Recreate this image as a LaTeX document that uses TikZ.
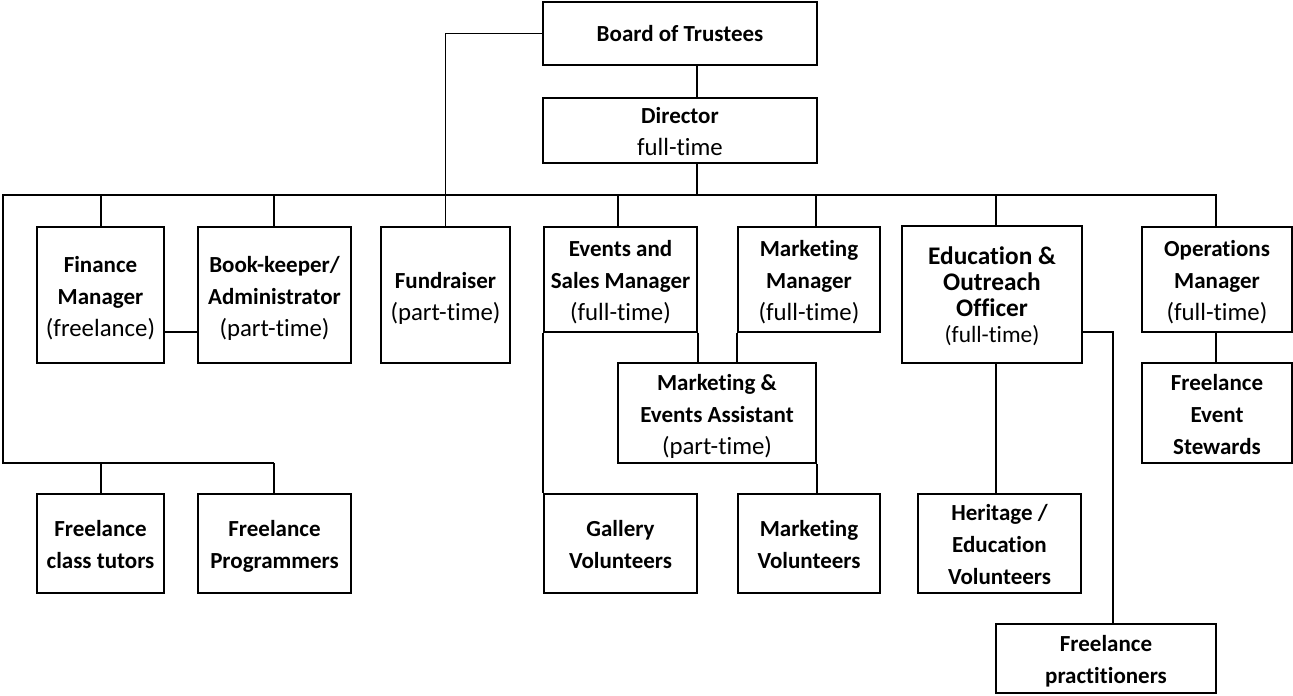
\documentclass[tikz,border=0pt]{standalone}
\usepackage{fontspec}
\setmainfont{Carlito}[Ligatures=NoCommon]
% centred stack of lines; the optional argument sets the height of the first row.
% The stack is set with zero height and depth so that it never enlarges its box.
\newsavebox\stackbox
\newlength\stackoff
\newcommand\stack[2][21.2pt]{%
  \sbox\stackbox{\begin{tabular}{@{}c@{}}\rule{0pt}{#1}#2\end{tabular}}%
  \setlength\stackoff{\ht\stackbox}\addtolength\stackoff{-\dp\stackbox}%
  \raisebox{-0.5\stackoff}[0pt][0pt]{\usebox\stackbox}}
\newcommand\hb[1]{{\fontsize{17.25}{24}\selectfont\bfseries #1}}
\newcommand\eb[1]{{\fontsize{19}{19.5}\selectfont\bfseries #1}}
\begin{document}
\begin{tikzpicture}[x=0.75pt,y=-0.75pt,
  sz/.style 2 args={minimum width=#1*0.75pt, minimum height=#2*0.75pt},
  box/.style={draw, line width=1.4pt, inner sep=0pt,
    font=\fontsize{18.6}{24}\selectfont},
  keybox/.style={box, line width=2pt, font=\fontsize{18.6}{19.5}\selectfont},
  link/.style={line width=1.4pt}]
\useasboundingbox (0,0) rectangle (1293,696);

% ---- boxes ----
\node[box, sz={274}{63}] (board) at (680,33.5) {\stack[19.5pt]{\hb{Board of Trustees}}};
\node[box, sz={274}{65}] (dir) at (680,130.5) {\stack{\hb{Director}\\full-time}};

\node[box, sz={127}{136}] (fin) at (100.5,295) {\stack{\hb{Finance}\\\hb{Manager}\\(freelance)}};
\node[box, sz={153}{136}] (bk) at (274.5,295) {\stack{\hb{Book-keeper/}\\\hb{Administrator}\\(part-time)}};
\node[box, sz={129}{136}] (fund) at (445.5,295) {\stack{\hb{Fundraiser}\\(part-time)}};
\node[box, sz={153}{105}] (evt) at (620.5,279.5) {\stack{\hb{Events and}\\\hb{Sales Manager}\\(full-time)}};
\node[box, sz={142}{105}] (mkt) at (809,279.5) {\stack{\hb{Marketing}\\\hb{Manager}\\(full-time)}};
\node[keybox, sz={180}{137}] (edu) at (992,294.5) {\stack[19.85pt]{\eb{Education \&}\\\eb{Outreach}\\\eb{Officer}\\{\fontsize{17.5}{19.5}\selectfont (full-time)}}};
\node[box, sz={150}{105}] (ops) at (1217,279.5) {\stack{\hb{Operations}\\\hb{Manager}\\(full-time)}};

\node[box, sz={198}{100}] (asst) at (717,413) {\stack{\hb{Marketing \&}\\\hb{Events Assistant}\\(part-time)}};
\node[box, sz={150}{100}] (stew) at (1217,413) {\stack{\hb{Freelance}\\\hb{Event}\\\hb{Stewards}}};

\node[box, sz={127}{99}] (tut) at (100.5,543.5) {\stack{\hb{Freelance}\\\hb{class tutors}}};
\node[box, sz={153}{99}] (prog) at (274.5,543.5) {\stack{\hb{Freelance}\\\hb{Programmers}}};
\node[box, sz={153}{99}] (gal) at (620.5,543.5) {\stack{\hb{Gallery}\\\hb{Volunteers}}};
\node[box, sz={142}{99}] (mvol) at (809,543.5) {\stack{\hb{Marketing}\\\hb{Volunteers}}};
\node[box, sz={163}{99}] (her) at (999.5,543.5) {\stack{\hb{Heritage /}\\\hb{Education}\\\hb{Volunteers}}};
\node[box, sz={220}{69}] (prac) at (1106,658.5) {\stack{\hb{Freelance}\\\hb{practitioners}}};

% ---- bus and junction points ----
\coordinate (busL) at (3,195);
\coordinate (busR) at (1216,195);
\coordinate (spine) at (697,195);
\coordinate (lowL) at (3,463);
\coordinate (lowR) at (274,463);
\coordinate (tfin) at (101,195);
\coordinate (tbk) at (274,195);
\coordinate (tevt) at (618,195);
\coordinate (tmkt) at (816,195);
\coordinate (tedu) at (996,195);
\coordinate (fbk) at (0,332);
\coordinate (eprac) at (1113,332);

% ---- connectors ----
\draw[link] (board.west) -| (fund.north);
\draw[link] (spine |- board.south) -- (spine |- dir.north);
\draw[link] (spine |- dir.south) -- (spine);
\draw[link] (lowR) -- (lowL) -- (busL) -- (busR) -- (busR |- ops.north);

\draw[link] (tfin) -- (tfin |- fin.north);
\draw[link] (tbk) -- (tbk |- bk.north);
\draw[link] (tevt) -- (tevt |- evt.north);
\draw[link] (tmkt) -- (tmkt |- mkt.north);
\draw[link] (tedu) -- (tedu |- edu.north);

\draw[link] (tfin |- lowL) -- (tfin |- tut.north);
\draw[link] (lowR) -- (lowR |- prog.north);

\draw[link] (fin.east |- fbk) -- (bk.west |- fbk);
\draw[link] (evt.south east) -- (evt.south east |- asst.north);
\draw[link] (mkt.south west) -- (mkt.south west |- asst.north);
\draw[link] (evt.south west) -- (gal.north west);
\draw[link] (asst.south east) -- (asst.south east |- mvol.north);
\draw[link] (busR |- ops.south) -- (busR |- stew.north);
\draw[link] (tedu |- edu.south) -- (tedu |- her.north);
\draw[link] (edu.east |- eprac) -- (eprac) -- (eprac |- prac.north);
\end{tikzpicture}
\end{document}
